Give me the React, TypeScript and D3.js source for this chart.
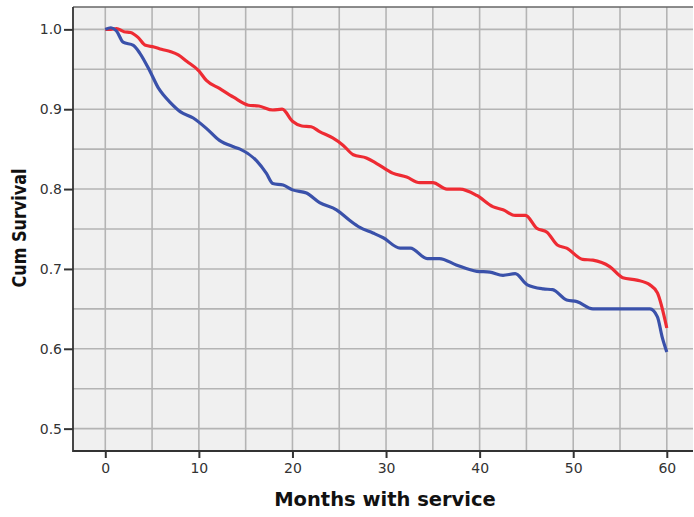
import React, { useEffect, useRef } from 'react';
import * as d3 from 'd3';

// survival estimates
const redMonths = [0, 0.6, 1.2, 2.0, 2.7, 3.5, 4.3, 5.2, 6.0, 7.0, 7.8, 8.7, 10.0, 10.8, 12.2, 13.7, 15.3, 16.4, 17.9, 18.9, 20.0, 21.0, 22.0, 22.9, 24.3, 25.4, 26.5, 27.9, 29.0, 30.7, 32.2, 33.6, 35.0, 36.5, 37.9, 39.7, 41.4, 42.5, 43.8, 44.9, 46.1, 47.2, 48.3, 49.3, 51.0, 52.1, 53.9, 55.3, 56.8, 58.2, 59.0, 60.0];
const redSurvival = [1.0, 1.0, 1.001, 0.997, 0.996, 0.99, 0.98, 0.978, 0.975, 0.972, 0.968, 0.96, 0.948, 0.936, 0.926, 0.915, 0.905, 0.904, 0.899, 0.9, 0.885, 0.879, 0.878, 0.872, 0.864, 0.855, 0.843, 0.839, 0.832, 0.82, 0.815, 0.808, 0.808, 0.8, 0.8, 0.792, 0.778, 0.774, 0.767, 0.767, 0.751, 0.746, 0.73, 0.726, 0.712, 0.711, 0.703, 0.689, 0.686, 0.68, 0.67, 0.626];

const blueMonths = [0, 0.6, 1.2, 1.9, 3.0, 3.7, 4.8, 5.7, 6.2, 6.9, 8.0, 9.4, 10.8, 12.2, 13.7, 14.4, 16.2, 17.2, 17.9, 19.0, 20.0, 21.5, 22.9, 24.7, 26.1, 27.2, 28.6, 29.7, 31.5, 32.6, 34.4, 35.7, 37.5, 39.7, 41.1, 42.5, 43.8, 45.1, 46.8, 47.8, 49.3, 50.4, 52.1, 53.9, 56.0, 58.2, 59.0, 59.5, 60.0];
const blueSurvival = [1.0, 1.002, 0.998, 0.984, 0.98, 0.97, 0.947, 0.926, 0.918, 0.909, 0.897, 0.889, 0.876, 0.861, 0.853, 0.85, 0.835, 0.82, 0.807, 0.805, 0.799, 0.795, 0.783, 0.774, 0.761, 0.752, 0.745, 0.739, 0.726, 0.726, 0.713, 0.713, 0.705, 0.697, 0.696, 0.692, 0.694, 0.68, 0.675, 0.674, 0.661, 0.659, 0.65, 0.65, 0.65, 0.65, 0.64, 0.615, 0.596];

const xTicks = [0, 10, 20, 30, 40, 50, 60];
const yTicks = [0.5, 0.6, 0.7, 0.8, 0.9, 1.0];
const xGrid = d3.range(0, 61, 5);
const yGrid = d3.range(0.5, 1.001, 0.05);

const App: React.FC = () => {
  const svgRef = useRef<SVGSVGElement>(null);

  useEffect(() => {
    if (!svgRef.current) return;
    const svg = d3.select(svgRef.current);
    svg.selectAll('*').remove();

    const left = 73, right = 693, top = 7, bottom = 451;

    const x = d3.scaleLinear().domain([-3.45, 62.8]).range([left, right]);
    const y = d3.scaleLinear().domain([0.472, 1.028]).range([bottom, top]);

    // Plot background
    svg.append('rect')
      .attr('x', left).attr('y', top)
      .attr('width', right - left).attr('height', bottom - top)
      .attr('fill', '#f0f0f0');

    // Grid
    svg.append('g').selectAll('line').data(xGrid).join('line')
      .attr('x1', d => x(d)).attr('x2', d => x(d))
      .attr('y1', top).attr('y2', bottom)
      .attr('stroke', '#b4b4b4').attr('stroke-width', 1.6);
    svg.append('g').selectAll('line').data(yGrid).join('line')
      .attr('x1', left).attr('x2', right)
      .attr('y1', d => y(d)).attr('y2', d => y(d))
      .attr('stroke', '#b4b4b4').attr('stroke-width', 1.6);

    // Frame
    svg.append('path')
      .attr('d', `M${left},${top}H${right}`)
      .attr('fill', 'none').attr('stroke', '#666').attr('stroke-width', 1.6);
    svg.append('path')
      .attr('d', `M${left},${top}V${bottom}H${right}`)
      .attr('fill', 'none').attr('stroke', '#333').attr('stroke-width', 1.8);

    // Axes
    const xAxis = svg.append('g')
      .attr('transform', `translate(0,${bottom})`)
      .call(d3.axisBottom(x).tickValues(xTicks).tickSize(7).tickSizeOuter(0).tickPadding(5).tickFormat(d3.format('d')));
    const yAxis = svg.append('g')
      .attr('transform', `translate(${left},0)`)
      .call(d3.axisLeft(y).tickValues(yTicks).tickSize(9).tickSizeOuter(0).tickPadding(2).tickFormat(d3.format('.1f')));

    [xAxis, yAxis].forEach(a => {
      a.select('.domain').remove();
      a.selectAll('line').attr('stroke', '#333').attr('stroke-width', 2);
      a.selectAll('text')
        .attr('fill', '#333')
        .style('font-family', 'DejaVu Sans, Verdana, sans-serif')
        .style('font-size', '14px');
    });

    // Curves
    const line = d3.line<[number, number]>()
      .x(d => x(d[0])).y(d => y(d[1]))
      .curve(d3.curveMonotoneX);

    const series = [
      { months: redMonths, surv: redSurvival, color: '#ee2b33' },
      { months: blueMonths, surv: blueSurvival, color: '#3a51aa' },
    ];
    series.forEach(s => {
      svg.append('path')
        .datum(s.months.map((m, i) => [m, s.surv[i]] as [number, number]))
        .attr('fill', 'none')
        .attr('stroke', s.color)
        .attr('stroke-width', 3.2)
        .attr('stroke-linejoin', 'round')
        .attr('stroke-linecap', 'butt')
        .attr('d', line);
    });

    // Axis titles
    svg.append('text')
      .attr('x', 385).attr('y', 506)
      .attr('text-anchor', 'middle')
      .style('font-family', 'DejaVu Sans, Verdana, sans-serif')
      .style('font-weight', 'bold')
      .style('font-size', '19.5px')
      .attr('fill', '#111')
      .text('Months with service');

    svg.append('text')
      .attr('transform', `translate(26,228) rotate(-90)`)
      .attr('text-anchor', 'middle')
      .attr('textLength', 119)
      .attr('lengthAdjust', 'spacingAndGlyphs')
      .style('font-family', 'DejaVu Sans, Verdana, sans-serif')
      .style('font-weight', 'bold')
      .style('font-size', '19px')
      .attr('fill', '#111')
      .text('Cum Survival');
  }, []);

  return (
    <svg ref={svgRef} width={694} height={517}
      style={{ position: 'absolute', left: 0, top: 0, background: '#fff' }} />
  );
};

export default App;
